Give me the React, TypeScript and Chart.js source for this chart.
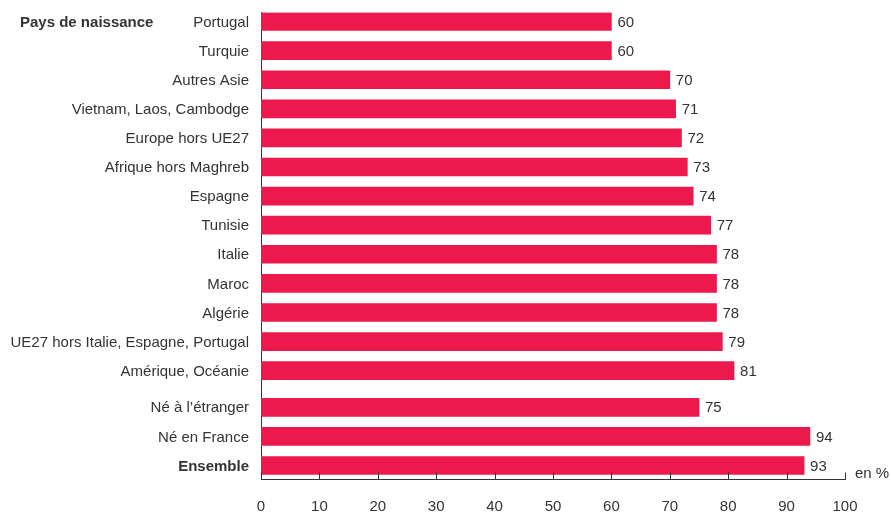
import React, { useEffect, useRef } from "react";
import { Chart, registerables } from "chart.js";

Chart.register(...registerables);

// Data
const countryLabels = [
  "Portugal",
  "Turquie",
  "Autres Asie",
  "Vietnam, Laos, Cambodge",
  "Europe hors UE27",
  "Afrique hors Maghreb",
  "Espagne",
  "Tunisie",
  "Italie",
  "Maroc",
  "Algérie",
  "UE27 hors Italie, Espagne, Portugal",
  "Amérique, Océanie",
];
const countryValues = [60, 60, 70, 71, 72, 73, 74, 77, 78, 78, 78, 79, 81];

const summaryLabels = ["Né à l’étranger", "Né en France", "Ensemble"];
const summaryValues = [75, 94, 93];

const xTicks = [0, 10, 20, 30, 40, 50, 60, 70, 80, 90, 100];
const groupTitle = "Pays de naissance";
const unitLabel = "en %";

const BAR_COLOR = "#ED184B";
const TEXT_COLOR = "#333333";
const FONT = "'Liberation Sans', Arial, Helvetica, sans-serif";
const GROUP_GAP = 0.26; // extra spacing (in rows) between the two groups

export default function App() {
  const ref = useRef<HTMLCanvasElement | null>(null);

  useEffect(() => {
    document.body.style.margin = "0";
    const canvas = ref.current;
    if (!canvas) return;

    const labels = [...countryLabels, ...summaryLabels];
    const values = [...countryValues, ...summaryValues];
    // row position: index, plus a gap before the summary group
    const rows = labels.map((_, i) => (i < countryLabels.length ? i : i + GROUP_GAP));
    const boldSet = new Set(["Ensemble"]);
    const data = values.map((v, i) => ({ x: v, y: rows[i] }));
    const lastRow = rows[rows.length - 1];

    const overlay = {
      id: "overlay",
      afterDatasetsDraw(chart: any) {
        const ctx = chart.ctx;
        const meta = chart.getDatasetMeta(0);
        ctx.save();
        ctx.fillStyle = TEXT_COLOR;
        ctx.font = `15px ${FONT}`;
        ctx.textAlign = "left";
        ctx.textBaseline = "middle";
        meta.data.forEach((bar: any, i: number) => {
          ctx.fillText(String(values[i]), bar.x + 6, bar.y + 1);
        });
        ctx.restore();
      },
      afterDraw(chart: any) {
        const ctx = chart.ctx;
        const xs = chart.scales.x;
        const ys = chart.scales.y;
        const area = chart.chartArea;
        ctx.save();
        // inner tick marks
        ctx.strokeStyle = TEXT_COLOR;
        ctx.lineWidth = 1;
        xTicks.forEach((t) => {
          const px = Math.round(xs.getPixelForValue(t)) + 0.5;
          ctx.beginPath();
          ctx.moveTo(px, area.bottom);
          ctx.lineTo(px, area.bottom - 7);
          ctx.stroke();
        });
        ctx.fillStyle = TEXT_COLOR;
        ctx.textBaseline = "middle";
        // category labels
        ctx.textAlign = "right";
        labels.forEach((lbl, i) => {
          ctx.font = `${boldSet.has(lbl) ? "bold " : ""}15px ${FONT}`;
          ctx.fillText(lbl, area.left - 12, ys.getPixelForValue(rows[i]) + 1);
        });
        // group title
        ctx.textAlign = "left";
        ctx.font = `bold 15px ${FONT}`;
        ctx.fillText(groupTitle, 20, ys.getPixelForValue(rows[0]) + 1);
        // unit
        ctx.font = `15px ${FONT}`;
        ctx.fillText(unitLabel, area.right + 10, area.bottom - 6);
        ctx.restore();
      },
    };

    const chart = new Chart(canvas, {
      type: "bar",
      data: {
        datasets: [
          {
            data: data as any,
            backgroundColor: BAR_COLOR,
            barThickness: 18,
            borderWidth: 0,
          },
        ],
      },
      options: {
        indexAxis: "y",
        animation: false,
        responsive: false,
        maintainAspectRatio: false,
        layout: { padding: { top: 12.5, right: 46, left: 0, bottom: 0 } },
        plugins: {
          legend: { display: false },
          tooltip: { enabled: false },
          title: { display: false },
        },
        scales: {
          x: {
            type: "linear",
            min: 0,
            max: 100,
            afterBuildTicks: (scale: any) => {
              scale.ticks = xTicks.map((v) => ({ value: v }));
            },
            afterFit: (scale: any) => {
              scale.height = 34.5;
            },
            grid: { display: false, drawTicks: false },
            border: { display: true, color: TEXT_COLOR, width: 1 },
            ticks: {
              color: TEXT_COLOR,
              font: { size: 15, family: FONT },
              padding: 18,
              maxRotation: 0,
            },
          },
          y: {
            type: "linear",
            reverse: true,
            offset: false,
            min: -0.31,
            max: lastRow + 0.48,
            afterFit: (scale: any) => {
              scale.width = 261;
            },
            grid: { display: false, drawTicks: false },
            border: { display: true, color: TEXT_COLOR, width: 1 },
            ticks: { display: false },
          },
        },
      },
      plugins: [overlay],
    });

    return () => chart.destroy();
  }, []);

  return <canvas ref={ref} width={891} height={514} style={{ display: "block" }} />;
}
